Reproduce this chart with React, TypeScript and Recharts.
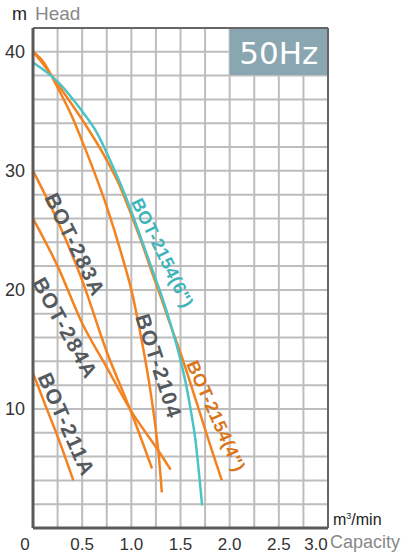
import React from "react";
import {
  LineChart, Line, XAxis, YAxis, CartesianGrid,
  ReferenceLine, ReferenceArea, ReferenceDot,
} from "recharts";

const X_TICKS = [0, 0.25, 0.5, 0.75, 1, 1.25, 1.5, 1.75, 2, 2.25, 2.5, 2.75, 3];
const Y_TICKS = [0, 2, 4, 6, 8, 10, 12, 14, 16, 18, 20, 22, 24, 26, 28, 30, 32, 34, 36, 38, 40, 42];

// curves: capacity (m3/min) -> head (m)
const BOT_2154_6 = [
  { x: 0, y: 39.1 }, { x: 0.25, y: 37.5 }, { x: 0.5, y: 35.0 }, { x: 0.65, y: 33.2 },
  { x: 0.8, y: 30.6 }, { x: 0.9, y: 28.7 }, { x: 1.0, y: 26.6 }, { x: 1.1, y: 24.3 },
  { x: 1.2, y: 22 }, { x: 1.3, y: 19.7 }, { x: 1.4, y: 17.1 }, { x: 1.5, y: 14.1 },
  { x: 1.55, y: 12.3 }, { x: 1.6, y: 10.1 }, { x: 1.65, y: 7.5 }, { x: 1.7, y: 3.6 },
  { x: 1.72, y: 1.9 },
];
const BOT_2154_4 = [
  { x: 0, y: 40 }, { x: 0.1, y: 39 }, { x: 0.25, y: 37.3 }, { x: 0.5, y: 34.3 },
  { x: 0.75, y: 30.9 }, { x: 0.9, y: 28.4 }, { x: 1.0, y: 26.3 }, { x: 1.1, y: 24.1 },
  { x: 1.2, y: 21.7 }, { x: 1.3, y: 19.4 }, { x: 1.4, y: 17 }, { x: 1.5, y: 14.7 },
  { x: 1.6, y: 12.2 }, { x: 1.7, y: 9.6 }, { x: 1.8, y: 7 }, { x: 1.92, y: 4 },
];
const BOT_2104 = [
  { x: 0, y: 40 }, { x: 0.1, y: 39.2 }, { x: 0.25, y: 37 }, { x: 0.4, y: 34.5 },
  { x: 0.5, y: 32.5 }, { x: 0.6, y: 30.4 }, { x: 0.75, y: 27 }, { x: 0.9, y: 23 },
  { x: 1.0, y: 20 }, { x: 1.1, y: 16 }, { x: 1.2, y: 11.2 }, { x: 1.25, y: 8.2 },
  { x: 1.28, y: 6 }, { x: 1.31, y: 3 },
];
const BOT_283A = [
  { x: 0, y: 30 }, { x: 0.25, y: 25.8 }, { x: 0.5, y: 20.8 }, { x: 0.75, y: 14.8 },
  { x: 1.0, y: 9.7 }, { x: 1.21, y: 5 },
];
const BOT_284A = [
  { x: 0, y: 26 }, { x: 0.25, y: 22 }, { x: 0.5, y: 17.2 }, { x: 0.75, y: 13.5 },
  { x: 1.0, y: 9.8 }, { x: 1.25, y: 6.8 }, { x: 1.4, y: 4.9 },
];
const BOT_211A = [
  { x: 0, y: 13 }, { x: 0.15, y: 9.8 }, { x: 0.25, y: 7.7 }, { x: 0.41, y: 4 },
];

const ORANGE = "#f4821f";
const TEAL = "#4cc3c7";

const SERIES = [
  { name: "BOT-283A", data: BOT_283A, color: ORANGE },
  { name: "BOT-284A", data: BOT_284A, color: ORANGE },
  { name: "BOT-211A", data: BOT_211A, color: ORANGE },
  { name: "BOT-2104", data: BOT_2104, color: ORANGE },
  { name: "BOT-2154(4\")", data: BOT_2154_4, color: ORANGE },
  { name: "BOT-2154(6\")", data: BOT_2154_6, color: TEAL },
];

// curve names, centred on a data point, rotated along the curve
const LABELS = [
  { text: "BOT-283A", x: 0.43, y: 23.8, angle: 64, color: "#555a5e", size: 21, spacing: 1.5 },
  { text: "BOT-284A", x: 0.33, y: 16.8, angle: 61, color: "#555a5e", size: 21, spacing: 1.5 },
  { text: "BOT-211A", x: 0.343, y: 8.7, angle: 66, color: "#555a5e", size: 21, spacing: 1.5 },
  { text: "BOT-2104", x: 1.281, y: 13.6, angle: 72, color: "#555a5e", size: 21, spacing: 1.5 },
  { text: "BOT-2154(6\")", x: 1.315, y: 23.1, angle: 64, color: "#3fb4ba", size: 18, spacing: 0.5 },
  { text: "BOT-2154(4\")", x: 1.859, y: 9.4, angle: 66, color: "#d8761c", size: 18, spacing: 0.5 },
];

const FONT = "'Liberation Sans', Arial, sans-serif";

function XTick(props: any) {
  const { x, y, payload } = props;
  const v = payload.value as number;
  if (Math.round(v * 2) !== v * 2) return <g />;
  const dx = v === 0 ? -8 : v === 3 ? -12 : 0;
  return (
    <text x={x + dx} y={y + 8} textAnchor="middle" dominantBaseline="central"
      fontSize={17} fontFamily={FONT} fill="#333">
      {v === 0 ? "0" : v.toFixed(1)}
    </text>
  );
}

function YTick(props: any) {
  const { x, y, payload } = props;
  const v = payload.value as number;
  if (v === 0 || v % 10 !== 0) return <g />;
  return (
    <text x={x} y={y} textAnchor="end" dominantBaseline="central"
      fontSize={18} fontFamily={FONT} fill="#333">
      {v}
    </text>
  );
}

export default function App() {
  return (
    <div style={{ position: "absolute", left: 0, top: 0, width: 404, height: 556, background: "#fff" }}>
      <span style={{ position: "absolute", left: 12, top: 4, fontSize: 18, fontFamily: FONT, color: "#222" }}>m</span>
      <span style={{ position: "absolute", left: 35, top: 3, fontSize: 19, fontFamily: FONT, color: "#888" }}>Head</span>
      <span style={{ position: "absolute", left: 333, top: 511, fontSize: 16, fontFamily: FONT, color: "#222" }}>
        m<sup style={{ fontSize: 9 }}>3</sup>/min
      </span>
      <span style={{ position: "absolute", left: 330, top: 532, fontSize: 18, fontFamily: FONT, color: "#888" }}>Capacity</span>
      <LineChart width={404} height={556} margin={{ top: 28, right: 76, bottom: 0, left: 0 }}>
        <CartesianGrid stroke="#bdbdbd" strokeWidth={2} />
        <XAxis dataKey="x" type="number" domain={[0, 3]} ticks={X_TICKS} interval={0}
          axisLine={{ stroke: "#5a5a5a", strokeWidth: 3 }} tickLine={false} tick={<XTick />} height={28} />
        <YAxis type="number" domain={[0, 42]} ticks={Y_TICKS} interval={0}
          axisLine={{ stroke: "#5a5a5a", strokeWidth: 3 }} tickLine={false} tick={<YTick />} width={33} />
        <ReferenceLine y={42} stroke="#666" strokeWidth={2} />
        <ReferenceLine x={3} stroke="#666" strokeWidth={2} />
        <ReferenceArea x1={2} x2={3} y1={38.05} y2={42} fill="#8aa6b1" fillOpacity={1} stroke="none"
          label={(p: any) => {
            const vb = p.viewBox;
            return (
              <text x={vb.x + vb.width / 2} y={vb.y + vb.height / 2 + 1} textAnchor="middle"
                dominantBaseline="central" fill="#fff" fontSize={31}
                fontFamily="'DejaVu Sans', sans-serif">50Hz</text>
            );
          }} />
        {SERIES.map((s) => (
          <Line key={s.name} data={s.data} dataKey="y" type="monotone" stroke={s.color}
            strokeWidth={2.5} dot={false} activeDot={false} isAnimationActive={false} />
        ))}
        {LABELS.map((l) => (
          <ReferenceDot key={l.text} x={l.x} y={l.y} r={0}
            shape={(p: any) => (
              <text x={p.cx} y={p.cy} transform={`rotate(${l.angle}, ${p.cx}, ${p.cy})`}
                textAnchor="middle" dominantBaseline="central" fontSize={l.size} fontWeight="bold"
                letterSpacing={l.spacing} fontFamily={FONT} fill={l.color}>{l.text}</text>
            )} />
        ))}
      </LineChart>
    </div>
  );
}
